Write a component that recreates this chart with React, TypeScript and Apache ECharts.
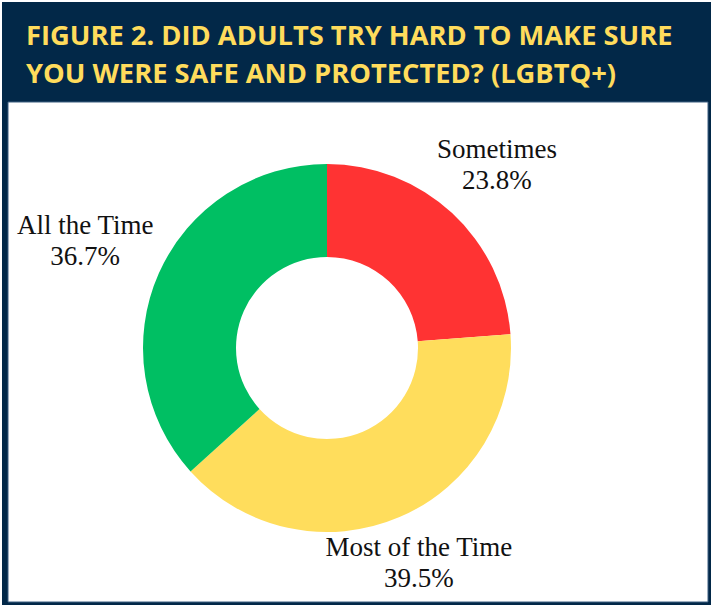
import React, { useEffect, useRef } from "react";
import * as echarts from "echarts";

const categories = ["Sometimes", "Most of the Time", "All the Time"];
const values = [23.8, 39.5, 36.7];
const sliceColors = ["#FF3333", "#FFDD5C", "#00BF63"];
const titleLines = [
  "FIGURE 2. DID ADULTS TRY HARD TO MAKE SURE",
  "YOU WERE SAFE AND PROTECTED? (LGBTQ+)",
];

const W = 711;
const H = 605;
const CX = 327;
const CY = 348;
const R_IN = 91;
const R_OUT = 184;
const LABEL_GAP = 7;
const INK_TOP = 8;
const INK_BOTTOM = 4;
const NAVY = "#022848";
const YELLOW = "#FFDC5C";

function inkDistance(px: number, py: number, w: number, h: number) {
  const x0 = px - w / 2;
  const x1 = px + w / 2;
  const y0 = py - h / 2 + INK_TOP;
  const y1 = py + h / 2 - INK_BOTTOM;
  const nx = Math.max(x0, Math.min(0, x1));
  const ny = Math.max(y0, Math.min(0, y1));
  return Math.hypot(nx, ny);
}

export default function App() {
  const ref = useRef<HTMLDivElement>(null);

  useEffect(() => {
    if (!ref.current) return;
    const chart = echarts.init(ref.current, undefined, { renderer: "svg" });
    const total = values.reduce((a, b) => a + b, 0);

    chart.setOption({
      animation: false,
      graphic: [
        {
          type: "rect",
          z: 0,
          shape: { x: 2, y: 2, width: W - 2, height: H - 2 },
          style: { fill: NAVY },
          silent: true,
        },
        {
          type: "rect",
          z: 0,
          shape: { x: 8, y: 102, width: 700, height: 500 },
          style: { fill: "#ffffff", stroke: "#3d5f80", lineWidth: 1 },
          silent: true,
        },
        ...titleLines.map((t, i) => ({
          type: "text",
          z: 1,
          x: 26,
          y: 34.5 + i * 37.5,
          style: {
            text: t,
            fill: YELLOW,
            font: 'bold 27.3px "Open Sans"',
            verticalAlign: "middle",
            align: "left",
          },
          silent: true,
        })),
      ],
      series: [
        {
          type: "pie",
          z: 5,
          center: [CX, CY],
          radius: [R_IN, R_OUT],
          startAngle: 90,
          clockwise: true,
          avoidLabelOverlap: false,
          silent: true,
          itemStyle: { borderWidth: 0 },
          label: {
            show: true,
            position: "outside",
            formatter: (p: any) => `${p.name}\n${values[p.dataIndex].toFixed(1)}%`,
            fontFamily: '"Liberation Serif", "Times New Roman", serif',
            fontSize: 27,
            lineHeight: 31,
            color: "#111111",
            align: "center",
          },
          labelLine: { show: false },
          labelLayout: (params: any) => {
            const i = params.dataIndex;
            let cum = 0;
            for (let k = 0; k < i; k++) cum += values[k];
            const mid = ((cum + values[i] / 2) / total) * 2 * Math.PI;
            const ux = Math.sin(mid);
            const uy = -Math.cos(mid);
            const w = params.labelRect.width;
            const h = params.labelRect.height;
            let lo = 0;
            let hi = 600;
            for (let it = 0; it < 50; it++) {
              const m = (lo + hi) / 2;
              if (inkDistance(ux * m, uy * m, w, h) < R_OUT + LABEL_GAP) lo = m;
              else hi = m;
            }
            const d = (lo + hi) / 2;
            return {
              x: CX + ux * d,
              y: CY + uy * d,
              align: "center",
              verticalAlign: "middle",
            };
          },
          data: categories.map((c, i) => ({
            name: c,
            value: values[i],
            itemStyle: { color: sliceColors[i] },
          })),
        },
      ],
    });

    return () => chart.dispose();
  }, []);

  return (
    <div
      ref={ref}
      style={{ position: "absolute", left: 0, top: 0, width: W, height: H }}
    />
  );
}
